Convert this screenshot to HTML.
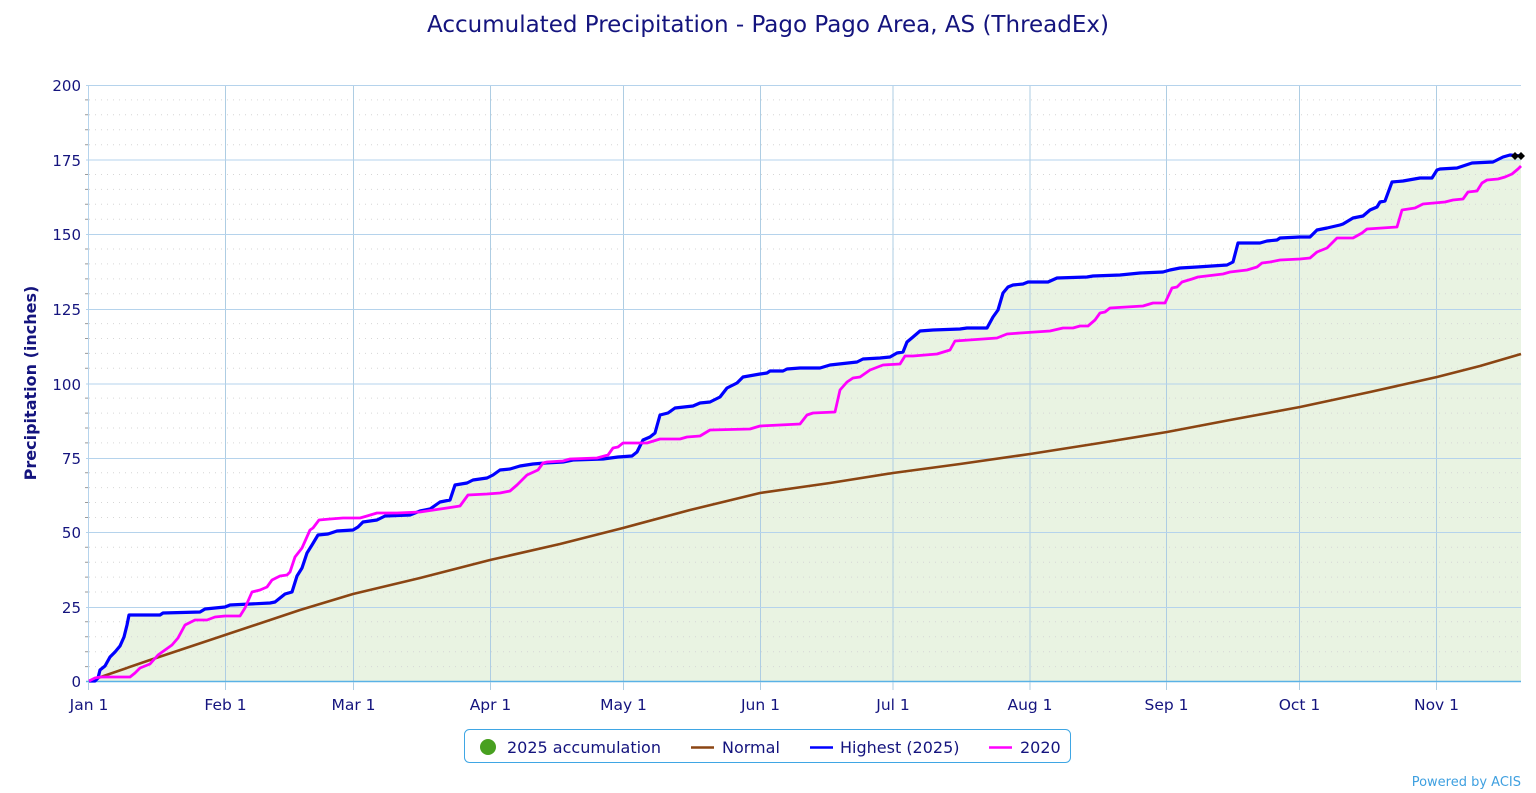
<!DOCTYPE html>
<html><head><meta charset="utf-8">
<style>
html,body{margin:0;padding:0;background:#fff;}
svg{display:block;font-family:"DejaVu Sans","Liberation Sans",sans-serif;}
</style></head>
<body>
<svg width="1536" height="793" viewBox="0 0 1536 793" xmlns="http://www.w3.org/2000/svg">
<rect width="1536" height="793" fill="#fff"/>
<text x="768" y="32" text-anchor="middle" font-size="23" fill="#14147e">Accumulated Precipitation - Pago Pago Area, AS (ThreadEx)</text>

<!-- fill area -->
<path fill="#e9f3e2" d="M89,681.5 L89,681 L95,681 L98,678 L100,670 L105,666 L110,657 L115,652 L120,646 L124,637 L127,625 L129,615 L160,615 L163,613 L200,612 L205,609 L225,607 L230,605 L250,604 L270,603 L275,602 L280,598 L285,594 L292,592 L297,576 L302,568 L307,553 L312,545 L318,535 L328,534 L337,531 L353,530 L358,527 L363,522 L377,520 L385,516 L410,515 L420,511 L430,509 L440,502 L450,500 L455,485 L467,483 L473,480 L487,478 L493,475 L500,470 L510,469 L520,466 L533,464 L545,463 L563,462 L573,460 L603,459 L618,457 L632,456 L637,452 L643,440 L650,437 L655,433 L660,415 L668,413 L675,408 L693,406 L700,403 L710,402 L720,397 L727,388 L737,383 L743,377 L760,374 L767,373 L770,371 L783,371 L787,369 L800,368 L820,368 L830,365 L857,362 L863,359 L880,358 L890,357 L897,353 L903,352 L907,342 L913,337 L920,331 L933,330 L960,329 L967,328 L987,328 L993,317 L998,310 L1003,293 L1008,287 L1013,285 L1023,284 L1028,282 L1048,282 L1057,278 L1087,277 L1093,276 L1120,275 L1140,273 L1163,272 L1170,270 L1180,268 L1197,267 L1227,265 L1233,262 L1238,243 L1260,243 L1267,241 L1277,240 L1280,238 L1300,237 L1310,237 L1317,230 L1327,228 L1340,225 L1343,224 L1353,218 L1363,216 L1370,210 L1377,207 L1380,202 L1385,201 L1392,182 L1403,181 L1420,178 L1432,178 L1437,170 L1440,169 L1457,168 L1463,166 L1472,163 L1493,162 L1503,157 L1510,155 L1521,156 L1521,681.5 Z"/>

<!-- minor dotted grid -->
<g stroke="#d6d6d6" stroke-width="1" stroke-dasharray="1,5">
<path d="M89,666.6H1521M89,651.7H1521M89,636.8H1521M89,621.8H1521
M89,592H1521M89,577.1H1521M89,562.2H1521M89,547.3H1521
M89,517.5H1521M89,502.5H1521M89,487.6H1521M89,472.7H1521
M89,442.9H1521M89,428H1521M89,413.1H1521M89,398.1H1521
M89,368.3H1521M89,353.4H1521M89,338.5H1521M89,323.6H1521
M89,293.8H1521M89,278.9H1521M89,263.9H1521M89,249H1521
M89,219.2H1521M89,204.3H1521M89,189.4H1521M89,174.5H1521
M89,144.7H1521M89,129.7H1521M89,114.8H1521M89,99.9H1521"/>
</g>
<!-- minor ticks -->
<g stroke="#999" stroke-width="1">
<path d="M85,666.6H89M85,651.7H89M85,636.8H89M85,621.8H89
M85,592H89M85,577.1H89M85,562.2H89M85,547.3H89
M85,517.5H89M85,502.5H89M85,487.6H89M85,472.7H89
M85,442.9H89M85,428H89M85,413.1H89M85,398.1H89
M85,368.3H89M85,353.4H89M85,338.5H89M85,323.6H89
M85,293.8H89M85,278.9H89M85,263.9H89M85,249H89
M85,219.2H89M85,204.3H89M85,189.4H89M85,174.5H89
M85,144.7H89M85,129.7H89M85,114.8H89M85,99.9H89"/>
</g>
<!-- vertical grid -->
<g stroke="#aecde3" stroke-width="1">
<path d="M225.5,85V682M353.5,85V682M490.5,85V682M623.5,85V682M760.5,85V682M893,85V682M1030,85V682M1166.5,85V682M1299.5,85V682M1436.5,85V682"/>
</g>
<!-- major horizontal grid -->
<g stroke="#b5d3ec" stroke-width="1">
<path d="M86,85.5H1521M86,160H1521M86,234.5H1521M86,309.5H1521M86,384H1521M86,458.5H1521M86,532.5H1521M86,607.5H1521"/>
</g>
<!-- axes -->
<path d="M88.5,85V682" stroke="#b5d3ec" stroke-width="1"/>
<path d="M86,681.5H1521" stroke="#5ab2e6" stroke-width="1.5"/>
<g stroke="#aecde3" stroke-width="1">
<path d="M88.5,682V690M225.5,682V690M353.5,682V690M490.5,682V690M623.5,682V690M760.5,682V690M893,682V690M1030,682V690M1166.5,682V690M1299.5,682V690M1436.5,682V690"/>
</g>

<!-- normal -->
<polyline fill="none" stroke="#8b4513" stroke-width="2.6" stroke-linejoin="round" points="89,681 150,660 225,635 300,610 353,594 420,578 490,560 560,544 623,528 690,510 760,493 830,483 893,473 960,464 1030,454 1100,443 1167,432 1230,420 1300,407 1370,392 1437,377 1480,366 1521,354"/>

<!-- highest 2025 -->
<polyline fill="none" stroke="#0000ff" stroke-width="3.2" stroke-linejoin="round" points="89,681 95,681 98,678 100,670 105,666 110,657 115,652 120,646 124,637 127,625 129,615 160,615 163,613 200,612 205,609 225,607 230,605 250,604 270,603 275,602 280,598 285,594 292,592 297,576 302,568 307,553 312,545 318,535 328,534 337,531 353,530 358,527 363,522 377,520 385,516 410,515 420,511 430,509 440,502 450,500 455,485 467,483 473,480 487,478 493,475 500,470 510,469 520,466 533,464 545,463 563,462 573,460 603,459 618,457 632,456 637,452 643,440 650,437 655,433 660,415 668,413 675,408 693,406 700,403 710,402 720,397 727,388 737,383 743,377 760,374 767,373 770,371 783,371 787,369 800,368 820,368 830,365 857,362 863,359 880,358 890,357 897,353 903,352 907,342 913,337 920,331 933,330 960,329 967,328 987,328 993,317 998,310 1003,293 1008,287 1013,285 1023,284 1028,282 1048,282 1057,278 1087,277 1093,276 1120,275 1140,273 1163,272 1170,270 1180,268 1197,267 1227,265 1233,262 1238,243 1260,243 1267,241 1277,240 1280,238 1300,237 1310,237 1317,230 1327,228 1340,225 1343,224 1353,218 1363,216 1370,210 1377,207 1380,202 1385,201 1392,182 1403,181 1420,178 1432,178 1437,170 1440,169 1457,168 1463,166 1472,163 1493,162 1503,157 1510,155 1521,156"/>

<!-- 2020 -->
<polyline fill="none" stroke="#ff00ff" stroke-width="2.8" stroke-linejoin="round" points="89,681 95,678 100,677 130,677 135,673 140,668 150,664 158,655 165,650 172,645 178,638 185,625 195,620 207,620 215,617 225,616 240,616 245,608 252,592 260,590 267,587 272,580 280,576 287,575 290,572 295,557 302,548 310,530 313,528 319,520 330,519 343,518 360,518 367,516 377,513 397,513 420,512 447,508 460,506 468,495 487,494 500,493 510,491 517,485 527,475 538,470 543,463 547,462 563,461 570,459 597,458 608,455 613,448 618,447 623,443 647,443 660,439 680,439 687,437 700,436 710,430 750,429 760,426 780,425 800,424 807,415 813,413 835,412 840,390 847,382 853,378 860,377 870,370 883,365 900,364 905,356 913,356 937,354 950,350 955,341 997,338 1007,334 1020,333 1050,331 1063,328 1073,328 1080,326 1088,326 1095,320 1100,313 1105,312 1110,308 1143,306 1153,303 1165,303 1172,288 1177,287 1182,282 1192,279 1198,277 1223,274 1230,272 1247,270 1257,267 1262,263 1270,262 1280,260 1300,259 1310,258 1317,252 1327,248 1337,238 1353,238 1362,233 1367,229 1397,227 1402,210 1415,208 1423,204 1445,202 1453,200 1463,199 1468,192 1477,191 1482,183 1487,180 1498,179 1505,177 1512,174 1518,169 1521,166"/>

<!-- end markers -->
<path d="M1515,152 L1519,156 L1515,160 L1511,156 Z M1521,152 L1525,156 L1521,160 L1517,156 Z" fill="#000"/>

<!-- y labels -->
<g font-size="15" fill="#14147e" text-anchor="end">
<text x="81" y="91">200</text>
<text x="81" y="166">175</text>
<text x="81" y="240">150</text>
<text x="81" y="315">125</text>
<text x="81" y="390">100</text>
<text x="81" y="464">75</text>
<text x="81" y="538">50</text>
<text x="81" y="613">25</text>
<text x="81" y="687">0</text>
</g>
<text transform="translate(36,383) rotate(-90)" text-anchor="middle" font-size="16" font-weight="bold" fill="#14147e">Precipitation (inches)</text>

<!-- x labels -->
<g font-size="15.5" fill="#14147e" text-anchor="middle">
<text x="89" y="710">Jan 1</text>
<text x="225.5" y="710">Feb 1</text>
<text x="353.5" y="710">Mar 1</text>
<text x="490.5" y="710">Apr 1</text>
<text x="623.5" y="710">May 1</text>
<text x="760.5" y="710">Jun 1</text>
<text x="893" y="710">Jul 1</text>
<text x="1030" y="710">Aug 1</text>
<text x="1166.5" y="710">Sep 1</text>
<text x="1299.5" y="710">Oct 1</text>
<text x="1436.5" y="710">Nov 1</text>
</g>

<!-- legend -->
<rect x="464.5" y="729.5" width="606" height="33" rx="5" ry="5" fill="#fff" stroke="#3fa6e4" stroke-width="1"/>
<circle cx="488" cy="747" r="8" fill="#48a020"/>
<g font-size="16" fill="#14147e">
<text x="507" y="753">2025 accumulation</text>
<text x="722" y="753">Normal</text>
<text x="840" y="753">Highest (2025)</text>
<text x="1020" y="753">2020</text>
</g>
<path d="M691,747.5H714" stroke="#8b4513" stroke-width="2.5"/>
<path d="M810,747.5H833" stroke="#0000ff" stroke-width="2.5"/>
<path d="M989,747.5H1012" stroke="#ff00ff" stroke-width="2.5"/>

<text x="1521" y="786" text-anchor="end" font-size="13" fill="#3fa0e0">Powered by ACIS</text>
</svg>
</body></html>
